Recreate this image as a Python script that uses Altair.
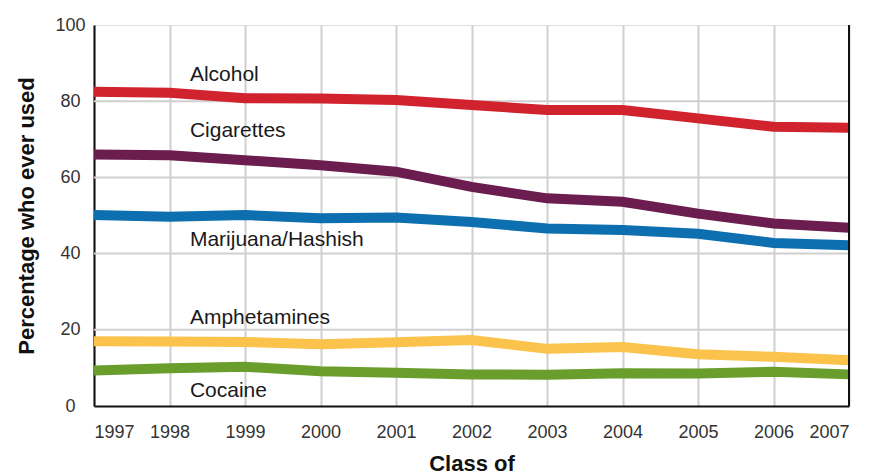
import altair as alt
import pandas as pd

years = list(range(1997, 2008))
series = ["Alcohol", "Cigarettes", "Marijuana/Hashish", "Amphetamines", "Cocaine"]
alcohol = [82.5, 82.2, 80.8, 80.7, 80.3, 79.0, 77.7, 77.7, 75.5, 73.3, 73.0]
cigarettes = [66.0, 65.8, 64.5, 63.2, 61.5, 57.5, 54.5, 53.6, 50.5, 47.9, 46.8]
marijuana = [50.1, 49.7, 50.1, 49.3, 49.5, 48.3, 46.6, 46.2, 45.2, 42.8, 42.2]
amphetamines = [17.0, 16.9, 16.8, 16.2, 16.7, 17.3, 15.0, 15.5, 13.6, 12.9, 12.0]
cocaine = [9.3, 9.9, 10.3, 9.1, 8.7, 8.3, 8.2, 8.6, 8.5, 9.0, 8.3]
colors = ["#d0232e", "#6b1d4f", "#0d6fb0", "#fbc34b", "#6a9e2c"]

label_x = [1998.27] * 5
label_y = [86.8, 72.1, 43.5, 23.0, 3.9]

y_ticks = [0, 20, 40, 60, 80, 100]
h_grid = [20, 40, 60, 80]

values = [alcohol, cigarettes, marijuana, amphetamines, cocaine]
rows = []
for name, vals in zip(series, values):
    for yr, v in zip(years, vals):
        rows.append({"year": yr, "pct": v, "series": name})
df = pd.DataFrame(rows)
labels = pd.DataFrame({"series": series, "x": label_x, "y": label_y})
grid_df = pd.DataFrame({"g": h_grid})

xscale = alt.Scale(domain=[1997, 2007], nice=False, zero=False)
yscale = alt.Scale(domain=[0, 100], nice=False)

xaxis = alt.Axis(values=years, format="d", title="Class of", grid=True,
                 gridColor="#cfcfcf", gridWidth=2, ticks=False,
                 domainColor="#111111", domainWidth=2,
                 labelFont="Liberation Sans", labelFontSize=18, labelColor="#333333",
                 labelPadding=17, titleFont="Liberation Sans", titleFontSize=22,
                 titleFontWeight="bold", titleColor="#111111", titlePadding=12)
yaxis = alt.Axis(values=y_ticks, title="Percentage who ever used", grid=False,
                 ticks=False, domainColor="#111111", domainWidth=2,
                 labelFont="Liberation Sans", labelFontSize=18, labelColor="#333333",
                 labelAlign="center", labelPadding=24,
                 titleFont="Liberation Sans", titleFontSize=22,
                 titleFontWeight="bold", titleColor="#111111", titlePadding=16)

hgrid = alt.Chart(grid_df).mark_rule(color="#cfcfcf", strokeWidth=2).encode(
    y=alt.Y("g:Q", scale=yscale, axis=yaxis)
)

lines = alt.Chart(df).mark_line(strokeWidth=10, strokeCap="butt").encode(
    x=alt.X("year:Q", scale=xscale, axis=xaxis),
    y=alt.Y("pct:Q", scale=yscale, axis=yaxis),
    color=alt.Color("series:N", scale=alt.Scale(domain=series, range=colors), legend=None),
    detail="series:N",
)

right = alt.Chart(grid_df).mark_rule(color="#111111", strokeWidth=2).encode(
    x=alt.datum(2007, scale=xscale),
    y=alt.datum(0),
    y2=alt.datum(100),
)

text = alt.Chart(labels).mark_text(align="left", baseline="middle", font="Liberation Sans",
                                   fontSize=21, color="#1a1a1a").encode(
    x=alt.X("x:Q", scale=xscale),
    y=alt.Y("y:Q", scale=yscale),
    text="series:N",
)

chart = alt.layer(hgrid, lines, right, text).properties(
    width=755, height=381,
    autosize=alt.AutoSizeParams(type="none"),
    padding={"left": 86, "top": 17, "right": 19, "bottom": 69},
).configure_view(stroke=None).configure(background="white")

chart.save("out.html", embed_options={"renderer": "svg", "actions": False})
